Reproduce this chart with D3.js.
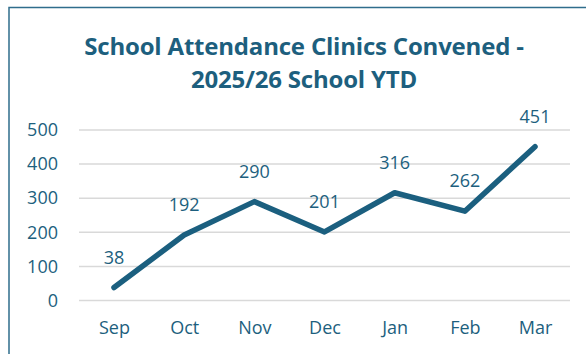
<!DOCTYPE html>
<html>
<head>
<meta charset="utf-8">
<script src="https://cdn.jsdelivr.net/npm/d3@7"></script>
<style>
  html, body { margin: 0; padding: 0; background: #fff; }
  svg { display: block; }
  text { font-family: "Open Sans", "Noto Sans", sans-serif; }
</style>
</head>
<body>
<div id="chart"></div>
<script>
const months = ["Sep", "Oct", "Nov", "Dec", "Jan", "Feb", "Mar"];
const clinics = [38, 192, 290, 201, 316, 262, 451];
const yTicks = [0, 100, 200, 300, 400, 500];
const titleLines = ["School Attendance Clinics Convened -", "2025/26 School YTD"];

const W = 586, H = 354;
const ink = "#1d5f7e";

const svg = d3.select("#chart").append("svg")
  .attr("width", W).attr("height", H);

// outer frame (runs off the right and bottom edges)
svg.append("rect")
  .attr("x", 9).attr("y", 7.5)
  .attr("width", 600).attr("height", 400)
  .attr("fill", "none")
  .attr("stroke", "#2f6d8c")
  .attr("stroke-width", 1.5);

// title
svg.append("g").selectAll("text")
  .data(titleLines).join("text")
  .attr("x", 304)
  .attr("y", (d, i) => 55 + i * 33)
  .attr("text-anchor", "middle")
  .attr("font-size", 24)
  .attr("letter-spacing", -0.2)
  .attr("font-weight", 700)
  .attr("fill", ink)
  .text(d => d);

const x = d3.scalePoint().domain(months).range([114, 535]);
const y = d3.scaleLinear().domain([0, 500]).range([300.5, 130]);

// gridlines
svg.append("g").selectAll("line")
  .data(yTicks).join("line")
  .attr("x1", 79).attr("x2", 570)
  .attr("y1", d => y(d)).attr("y2", d => y(d))
  .attr("stroke", "#d9d9d9").attr("stroke-width", 1.5);

// y axis labels
const yAxis = d3.axisLeft(y).tickValues(yTicks).tickSize(0).tickPadding(0);
const gy = svg.append("g").attr("transform", "translate(58,0)").call(yAxis);
gy.select(".domain").remove();
gy.selectAll("text")
  .attr("font-size", 18).attr("fill", ink)
  .attr("font-family", "'Open Sans', sans-serif");

// x axis labels
const xAxis = d3.axisBottom(x).tickSize(0).tickPadding(0);
const gx = svg.append("g").attr("transform", "translate(0,321)").call(xAxis);
gx.select(".domain").remove();
gx.selectAll("text")
  .attr("font-size", 18).attr("fill", ink)
  .attr("font-family", "'Open Sans', sans-serif");

// series line
const line = d3.line()
  .x((d, i) => x(months[i]))
  .y(d => y(d));

svg.append("path")
  .datum(clinics)
  .attr("d", line)
  .attr("fill", "none")
  .attr("stroke", "#1b5f7f")
  .attr("stroke-width", 5.5)
  .attr("stroke-linejoin", "round")
  .attr("stroke-linecap", "round");

// value labels
svg.append("g").selectAll("text")
  .data(clinics).join("text")
  .attr("x", (d, i) => x(months[i]))
  .attr("y", d => y(d) - 30)
  .attr("dy", "0.35em")
  .attr("text-anchor", "middle")
  .attr("font-size", 18)
  .attr("fill", ink)
  .text(d => d);
</script>
</body>
</html>
